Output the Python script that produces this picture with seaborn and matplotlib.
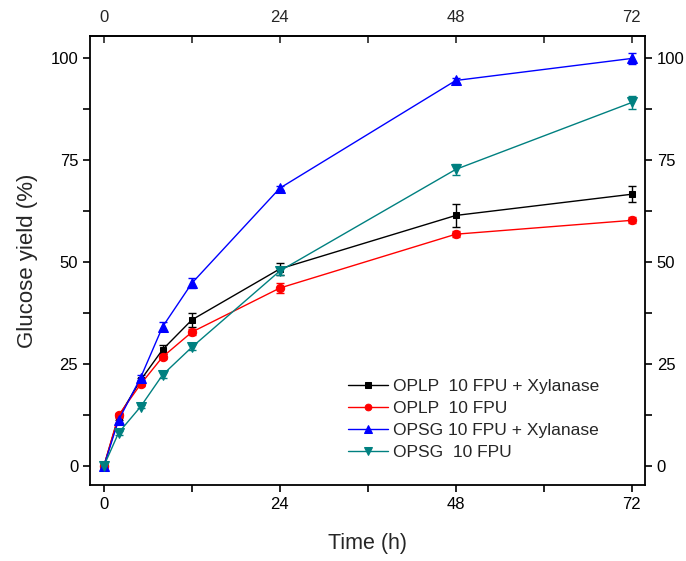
import numpy as np
import pandas as pd
import matplotlib
matplotlib.use("Agg")
import matplotlib.pyplot as plt
from matplotlib.ticker import MultipleLocator, FixedLocator
import seaborn as sns

time_h = [0, 2, 5, 8, 12, 24, 48, 72]
series_names = ["OPLP  10 FPU + Xylanase", "OPLP  10 FPU",
                "OPSG 10 FPU + Xylanase", "OPSG  10 FPU"]
oplp_xyl = [0.0, 12.0, 21.0, 28.5, 35.8, 48.3, 61.4, 66.6]
oplp_xyl_err = [0.3, 0.8, 0.6, 1.1, 1.7, 1.5, 2.8, 2.0]
oplp = [0.0, 12.4, 20.0, 26.7, 32.8, 43.6, 56.8, 60.2]
oplp_err = [0.3, 0.6, 0.5, 0.6, 0.8, 1.3, 0.8, 0.7]
opsg_xyl = [0.0, 11.2, 21.6, 34.1, 44.8, 68.1, 94.5, 99.9]
opsg_xyl_err = [0.3, 0.8, 0.6, 1.1, 1.2, 0.5, 0.7, 1.3]
opsg = [0.0, 8.1, 14.5, 22.3, 29.1, 47.8, 72.7, 89.1]
opsg_err = [0.3, 0.5, 0.4, 0.7, 0.8, 0.9, 1.4, 1.7]

values = [oplp_xyl, oplp, opsg_xyl, opsg]
errors = [oplp_xyl_err, oplp_err, opsg_xyl_err, opsg_err]
colors = ["#000000", "#ff0000", "#0000ff", "#008080"]
markers = ["s", "o", "^", "v"]
msizes = [5, 6, 6.5, 6.5]

df = pd.DataFrame({
    "Time": np.tile(time_h, 4),
    "Yield": np.concatenate(values),
    "Err": np.concatenate(errors),
    "Series": np.repeat(series_names, len(time_h)),
})

sns.set_style("white")
plt.rcParams["font.family"] = ["Liberation Sans", "DejaVu Sans"]

fig = plt.figure(figsize=(6.86, 5.61), dpi=100)
ax = fig.add_axes([0.1312, 0.1355, 0.809, 0.8003])

for name, c, m, ms in zip(series_names, colors, markers, msizes):
    sub = df[df["Series"] == name]
    ax.errorbar(sub["Time"], sub["Yield"], yerr=sub["Err"], fmt="none",
                ecolor=c, elinewidth=1.0, capsize=3, capthick=1.0, zorder=2)
    sns.lineplot(data=sub, x="Time", y="Yield", ax=ax, color=c, marker=m,
                 markersize=ms, markeredgecolor=c, linewidth=1.0,
                 label=name, zorder=3, errorbar=None)

ax.set_xlim(-1.9, 73.8)
ax.set_ylim(-4.7, 105.4)
ax.xaxis.set_major_locator(FixedLocator([0, 24, 48, 72]))
ax.xaxis.set_minor_locator(FixedLocator([12, 36, 60]))
ax.yaxis.set_major_locator(MultipleLocator(25))
ax.yaxis.set_minor_locator(MultipleLocator(12.5))
ax.set_yticks([0, 25, 50, 75, 100])

ax.tick_params(axis="both", which="both", direction="out", length=5,
               width=1.2, labelsize=12, colors="black")
ax.tick_params(axis="y", which="both", left=True, right=True,
               labelleft=True, labelright=True)
ax.tick_params(axis="x", which="both", bottom=True, top=False)

sec = ax.secondary_xaxis("top")
sec.xaxis.set_major_locator(FixedLocator([0, 24, 48, 72]))
sec.xaxis.set_minor_locator(FixedLocator([12, 36, 60]))
sec.tick_params(axis="x", which="both", direction="in", length=5,
                width=1.2, labelsize=12, pad=8)
sec.spines["top"].set_linewidth(1.3)

for s in ax.spines.values():
    s.set_linewidth(1.3)
    s.set_color("black")

ax.set_xlabel("Time (h)", fontsize=15.5, labelpad=15)
ax.set_ylabel("Glucose yield (%)", fontsize=16, labelpad=9)

leg = ax.legend(loc="upper left", bbox_to_anchor=(0.452, 0.252),
                borderaxespad=0, frameon=False, fontsize=12.5,
                handlelength=2.3, handletextpad=0.3, labelspacing=0.4,
                markerscale=0.8)

fig.savefig("out.png", dpi=100)
